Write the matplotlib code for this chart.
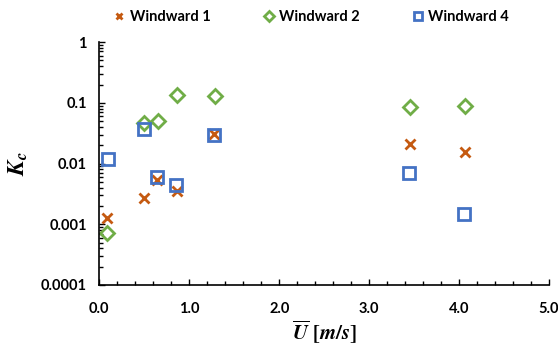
import numpy as np
import matplotlib.pyplot as plt
from matplotlib.ticker import FixedLocator, LogLocator, NullFormatter, FormatStrFormatter

plt.rcParams['font.family'] = ['Lato', 'DejaVu Sans']
plt.rcParams['font.weight'] = 'bold'
plt.rcParams['mathtext.fontset'] = 'stix'

# mean velocity [m/s] and K_c for each windward position
u_w1 = [0.09, 0.50, 0.64, 0.86, 1.27, 3.45, 4.06]
kc_w1 = [0.00127, 0.00266, 0.0054, 0.0035, 0.0305, 0.0206, 0.0156]

u_w2 = [0.09, 0.50, 0.65, 0.86, 1.29, 3.45, 4.06]
kc_w2 = [0.00072, 0.0458, 0.0506, 0.137, 0.129, 0.086, 0.089]

u_w4 = [0.10, 0.50, 0.64, 0.85, 1.27, 3.44, 4.05]
kc_w4 = [0.0121, 0.0365, 0.0061, 0.0044, 0.030, 0.0069, 0.00145]

x_ticks = [0.0, 1.0, 2.0, 3.0, 4.0, 5.0]
y_ticks = [0.0001, 0.001, 0.01, 0.1, 1]
y_labels = ['0.0001', '0.001', '0.01', '0.1', '1']

fig = plt.figure(figsize=(5.58, 3.45), dpi=100)
ax = fig.add_axes([0.178, 0.174, 0.806, 0.704])

ax.plot(u_w1, kc_w1, linestyle='none', marker='x', ms=7, mew=2,
        color='#C55A11', label='Windward 1')
ax.plot(u_w2, kc_w2, linestyle='none', marker='D', ms=7.5, mew=2,
        mfc='none', color='#70AD47', label='Windward 2')
ax.plot(u_w4, kc_w4, linestyle='none', marker='s', ms=8, mew=2,
        mfc='none', color='#4472C4', label='Windward 4')

ax.set_yscale('log')
ax.set_xlim(0, 5)
ax.set_ylim(0.0001, 1)

ax.set_xticks(x_ticks)
ax.xaxis.set_major_formatter(FormatStrFormatter('%.1f'))
ax.xaxis.set_minor_locator(FixedLocator(np.arange(0, 5.01, 0.2)))
ax.set_yticks(y_ticks)
ax.set_yticklabels(y_labels)
ax.yaxis.set_minor_locator(LogLocator(base=10, subs=np.arange(2, 10)))
ax.yaxis.set_minor_formatter(NullFormatter())

ax.tick_params(which='both', direction='in', labelsize=10.5, width=1, color='black')
ax.tick_params(which='major', length=4, pad=9)
ax.tick_params(which='minor', length=3)
ax.tick_params(axis='x', pad=12)

for side in ['top', 'right']:
    ax.spines[side].set_visible(False)
for side in ['left', 'bottom']:
    ax.spines[side].set_linewidth(1.2)

ax.set_xlabel(r'$\overline{U}\ [m/s]$', fontsize=15, labelpad=2)
ax.set_ylabel(r'$K_c$', fontsize=17, labelpad=8)

fig.legend(loc='upper center', bbox_to_anchor=(0.555, 1.01), ncol=3, frameon=False,
           fontsize=10.5, handletextpad=0.1, columnspacing=3.4, handlelength=1.2,
           markerscale=0.7)

fig.savefig('out.png', dpi=100)
